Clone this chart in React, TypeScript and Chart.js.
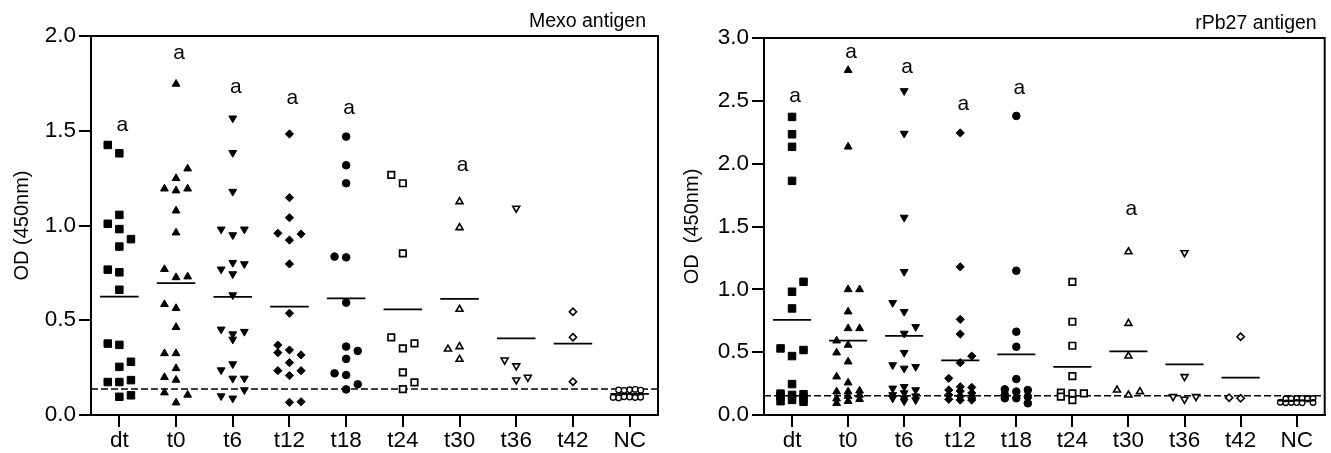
import React, { useEffect, useRef } from 'react';
import { Chart, registerables } from 'chart.js';

Chart.register(...registerables);

const categories = ['dt', 't0', 't6', 't12', 't18', 't24', 't30', 't36', 't42', 'NC'];

// ---- Mexo antigen (OD 450nm) ----
const mexoDt = [1.381, 1.056, 0.981, 0.889, 0.753, 0.661, 0.37, 0.254, 0.174, 0.096, 1.425, 0.928, 1.009, 0.281, 0.767, 0.184, 0.377, 0.104, 0.174];
const mexoT0 = [1.747, 1.249, 1.184, 1.078, 0.962, 0.726, 0.563, 0.463, 0.325, 0.246, 0.185, 0.065, 1.194, 1.194, 0.769, 0.73, 0.584, 1.3, 0.325, 0.106, 0.199, 0.118];
const mexoT6 = [1.566, 1.384, 1.179, 0.95, 0.804, 0.744, 0.633, 0.399, 0.269, 0.193, 0.088, 0.98, 0.98, 0.769, 0.797, 0.452, 0.44, 0.427, 0.237, 0.193, 0.1, 0.132];
const mexoT12 = [1.483, 1.147, 1.041, 0.923, 0.797, 0.537, 0.343, 0.276, 0.208, 0.067, 0.959, 0.955, 0.369, 0.317, 0.329, 0.234, 0.234, 0.07];
const mexoT18 = [1.469, 1.318, 1.223, 0.832, 0.593, 0.361, 0.296, 0.211, 0.135, 0.836, 0.338, 0.22, 0.162];
const mexoT24 = [1.223, 0.853, 0.352, 0.225, 0.137, 0.41, 0.172, 0.378, 1.267];
const mexoT30 = [1.126, 0.989, 0.558, 0.361, 0.294, 0.348];
const mexoT36 = [1.091, 0.259, 0.185, 0.29, 0.199];
const mexoT42 = [0.545, 0.41, 0.176];
const mexoNC = [0.133, 0.095, 0.13, 0.092, 0.135, 0.096, 0.131, 0.09, 0.132, 0.094, 0.093];
const mexoLetters = ['a', 'a', 'a', 'a', 'a', '', 'a', '', '', ''];
const mexoLetterValues = [1.525, 1.909, 1.729, 1.671, 1.618, 0, 1.316, 0, 0, 0];
const mexoCutoff = 0.137;
const mexoTicks = [0, 0.5, 1.0, 1.5, 2.0];

// ---- rPb27 antigen (OD 450nm) ----
const rpbDt = [2.372, 2.234, 2.134, 1.863, 0.981, 0.848, 0.469, 0.246, 0.53, 1.06, 0.517, 0.17, 0.165, 0.16, 0.15, 0.135, 0.12, 0.11, 0.105];
const rpbT0 = [2.743, 2.134, 0.999, 0.822, 0.689, 0.557, 0.424, 0.257, 0.591, 0.999, 0.305, 0.689, 0.496, 0.193, 0.186, 0.186, 0.16, 0.15, 0.13, 0.125, 0.11, 0.093];
const rpbT6 = [2.579, 2.24, 1.572, 1.14, 0.822, 0.649, 0.496, 0.371, 0.893, 0.702, 0.398, 0.384, 0.225, 0.212, 0.199, 0.175, 0.16, 0.15, 0.133, 0.133, 0.119, 0.11];
const rpbT12 = [2.245, 1.179, 0.761, 0.644, 0.416, 0.225, 0.292, 0.469, 0.22, 0.199, 0.19, 0.175, 0.16, 0.15, 0.135, 0.125, 0.119, 0.119];
const rpbT18 = [2.38, 1.148, 0.663, 0.543, 0.286, 0.204, 0.199, 0.186, 0.16, 0.146, 0.133, 0.133, 0.093];
const rpbT24 = [1.06, 0.742, 0.551, 0.31, 0.119, 0.178, 0.172, 0.172, 0.146];
const rpbT30 = [1.299, 0.729, 0.469, 0.159, 0.199, 0.186];
const rpbT36 = [1.291, 0.305, 0.125, 0.146, 0.146];
const rpbT42 = [0.623, 0.133, 0.138];
const rpbNC = [0.13, 0.1, 0.132, 0.098, 0.128, 0.102, 0.131, 0.097, 0.129, 0.1, 0.13, 0.099];
const rpbLetters = ['a', 'a', 'a', 'a', 'a', '', 'a', '', '', ''];
const rpbLetterValues = [2.533, 2.883, 2.767, 2.467, 2.599, 0, 1.631, 0, 0, 0];
const rpbCutoff = 0.154;
const rpbTicks = [0, 0.5, 1.0, 1.5, 2.0, 2.5, 3.0];

// ---- styles ----
const FONT = '"Liberation Sans", Arial, Helvetica, sans-serif';

type Marker = {
  shape: string; radius: number; rotation: number; filled: boolean; border: number;
  laneWidth: number; collide: number; maxLane: number;
};
const std = { laneWidth: 11.6, collide: 11.2, maxLane: 1 };
const MARKERS: Marker[] = [
  { shape: 'rect', radius: 5.3, rotation: 0, filled: true, border: 1, ...std },
  { shape: 'triangle', radius: 4.5, rotation: 0, filled: true, border: 1, ...std },
  { shape: 'triangle', radius: 4.5, rotation: 180, filled: true, border: 1, ...std },
  { shape: 'rectRot', radius: 4.1, rotation: 0, filled: true, border: 1, ...std },
  { shape: 'circle', radius: 3.8, rotation: 0, filled: true, border: 1, ...std },
  { shape: 'rect', radius: 4.6, rotation: 0, filled: false, border: 1.7, ...std },
  { shape: 'triangle', radius: 4.0, rotation: 0, filled: false, border: 1.6, ...std },
  { shape: 'triangle', radius: 4.0, rotation: 180, filled: false, border: 1.6, ...std },
  { shape: 'rectRot', radius: 3.6, rotation: 0, filled: false, border: 1.6, ...std },
  { shape: 'circle', radius: 2.8, rotation: 0, filled: false, border: 1.3, laneWidth: 5.5, collide: 6, maxLane: 3 },
];
const MEAN_HALF = 0.34;

type Layout = {
  left: number; width: number; plotLeft: number; plotRight: number; plotTop: number; plotBottom: number;
  titleInset: number; yTitlePad: number;
};

type PanelDef = {
  series: number[][]; letters: string[]; letterValues: number[]; cutoff: number; ticks: number[];
  yMax: number; title: string; yTitle: string; layout: Layout;
};

const panels: PanelDef[] = [
  {
    series: [mexoDt, mexoT0, mexoT6, mexoT12, mexoT18, mexoT24, mexoT30, mexoT36, mexoT42, mexoNC],
    letters: mexoLetters, letterValues: mexoLetterValues, cutoff: mexoCutoff, ticks: mexoTicks, yMax: 2,
    title: 'Mexo antigen', yTitle: 'OD (450nm)',
    layout: { left: 0, width: 665, plotLeft: 91, plotRight: 658, plotTop: 36, plotBottom: 415, titleInset: 12, yTitlePad: 10 },
  },
  {
    series: [rpbDt, rpbT0, rpbT6, rpbT12, rpbT18, rpbT24, rpbT30, rpbT36, rpbT42, rpbNC],
    letters: rpbLetters, letterValues: rpbLetterValues, cutoff: rpbCutoff, ticks: rpbTicks, yMax: 3,
    title: 'rPb27 antigen', yTitle: 'OD  (450nm)',
    layout: { left: 665, width: 666, plotLeft: 764, plotRight: 1330, plotTop: 38, plotBottom: 415, titleInset: 8, yTitlePad: 15 },
  },
];

// deterministic column-scatter placement: points with near values are moved to side lanes
function jitterLanes(values: number[], pxPerUnit: number, collide: number, maxLane: number): number[] {
  const lanes: number[] = [];
  let toggle = -1;
  const nearest = (lane: number, v: number) => {
    let d = Infinity;
    lanes.forEach((l, j) => { if (l === lane) d = Math.min(d, Math.abs(values[j] - v) * pxPerUnit); });
    return d;
  };
  values.forEach((v) => {
    const order = [0];
    for (let k = 1; k <= maxLane; k++) order.push(toggle * k, -toggle * k);
    let chosen = order.find((l) => nearest(l, v) >= collide);
    if (chosen === undefined) {
      let best = 0;
      let bestD = -1;
      order.forEach((l) => { const d = nearest(l, v); if (d > bestD + 1e-9) { bestD = d; best = l; } });
      chosen = best;
    }
    if (chosen !== 0) toggle = chosen > 0 ? -1 : 1;
    lanes.push(chosen);
  });
  return lanes;
}

const overlayPlugin = {
  id: 'overlay',
  afterDraw(chart: any, _args: any, opts: any) {
    const { ctx, chartArea } = chart;
    const xs = chart.scales.x;
    const ys = chart.scales.y;
    ctx.save();
    ctx.strokeStyle = '#000';
    ctx.lineWidth = 2;
    ctx.beginPath();
    ctx.moveTo(chartArea.left - 1, chartArea.top);
    ctx.lineTo(chartArea.right, chartArea.top);
    ctx.lineTo(chartArea.right, chartArea.bottom + 1);
    ctx.stroke();

    ctx.fillStyle = '#000';
    ctx.font = `19.5px ${FONT}`;
    ctx.textAlign = 'right';
    ctx.textBaseline = 'alphabetic';
    ctx.fillText(opts.title, chartArea.right - opts.titleInset, chartArea.top - 9);

    ctx.font = `21px ${FONT}`;
    ctx.textAlign = 'center';
    opts.letters.forEach((t: string, i: number) => {
      if (!t) return;
      const x = xs.getPixelForValue(i) + 3;
      const y = ys.getPixelForValue(opts.letterValues[i]) + 0.26 * 21;
      ctx.fillText(t, x, y);
    });
    ctx.restore();
  },
};

function buildConfig(p: PanelDef): any {
  const L = p.layout;
  const plotH = L.plotBottom - L.plotTop;
  const plotW = L.plotRight - L.plotLeft;
  const pxPerUnit = plotH / p.yMax;
  const catPx = plotW / categories.length;
  const datasets: any[] = [];

  p.series.forEach((vals, i) => {
    const m = MARKERS[i];
    const lanes = jitterLanes(vals, pxPerUnit, m.collide, m.maxLane);
    datasets.push({
      type: 'scatter',
      data: vals.map((v, j) => ({ x: i + (lanes[j] * m.laneWidth) / catPx, y: v })),
      pointStyle: m.shape,
      pointRadius: m.radius,
      pointRotation: m.rotation,
      pointBackgroundColor: m.filled ? '#000' : '#fff',
      pointBorderColor: '#000',
      pointBorderWidth: m.border,
      order: 2,
    });
    const mean = vals.reduce((a, b) => a + b, 0) / vals.length;
    datasets.push({
      type: 'line',
      data: [{ x: i - MEAN_HALF, y: mean }, { x: i + MEAN_HALF, y: mean }],
      borderColor: '#000',
      borderWidth: 1.8,
      pointRadius: 0,
      order: 1,
    });
  });

  datasets.push({
    type: 'line',
    data: [{ x: -0.5, y: p.cutoff }, { x: categories.length - 0.5, y: p.cutoff }],
    borderColor: '#000',
    borderWidth: 1.5,
    borderDash: [7, 3],
    pointRadius: 0,
    order: 3,
  });

  const tickFont = { family: FONT, size: 22.5 };
  const grid = { drawOnChartArea: false, drawTicks: true, tickLength: 12, color: '#000', lineWidth: 2 };
  const border = { display: true, color: '#000', width: 2 };

  return {
    type: 'scatter',
    data: { datasets },
    plugins: [overlayPlugin],
    options: {
      responsive: false,
      animation: false,
      devicePixelRatio: 1,
      layout: { padding: { left: 0, right: L.left + L.width - L.plotRight, top: L.plotTop, bottom: 0 } },
      plugins: {
        legend: { display: false },
        tooltip: { enabled: false },
        title: { display: false },
        overlay: { title: p.title, titleInset: p.layout.titleInset, letters: p.letters, letterValues: p.letterValues },
      },
      scales: {
        x: {
          type: 'linear',
          min: -0.5,
          max: categories.length - 0.5,
          afterBuildTicks: (s: any) => { s.ticks = categories.map((_, i) => ({ value: i })); },
          afterFit: (s: any) => { s.height = 453 - L.plotBottom; },
          ticks: {
            callback: (v: any) => categories[Math.round(Number(v))] ?? '',
            font: tickFont, color: '#000', padding: 0, maxRotation: 0, autoSkip: false,
          },
          grid, border,
        },
        y: {
          type: 'linear',
          min: 0,
          max: p.yMax,
          afterBuildTicks: (s: any) => { s.ticks = p.ticks.map((v) => ({ value: v })); },
          afterFit: (s: any) => { s.width = L.plotLeft - L.left; },
          ticks: { callback: (v: any) => Number(v).toFixed(1), font: tickFont, color: '#000', padding: 3 },
          grid, border,
          title: {
            display: true, text: p.yTitle, color: '#000',
            font: { family: FONT, size: 20 },
            padding: { top: L.yTitlePad, bottom: 0 },
          },
        },
      },
    },
  };
}

function Panel({ panel }: { panel: PanelDef }) {
  const ref = useRef<HTMLCanvasElement>(null);
  useEffect(() => {
    if (!ref.current) return;
    const chart = new Chart(ref.current, buildConfig(panel));
    return () => chart.destroy();
  }, [panel]);
  const L = panel.layout;
  return (
    <canvas
      ref={ref}
      width={L.width}
      height={453}
      style={{ position: 'absolute', left: L.left, top: 0, width: L.width, height: 453 }}
    />
  );
}

export default function App() {
  return (
    <div style={{ position: 'absolute', left: 0, top: 0, width: 1331, height: 453, background: '#fff', overflow: 'hidden' }}>
      {panels.map((p, i) => <Panel key={i} panel={p} />)}
    </div>
  );
}
